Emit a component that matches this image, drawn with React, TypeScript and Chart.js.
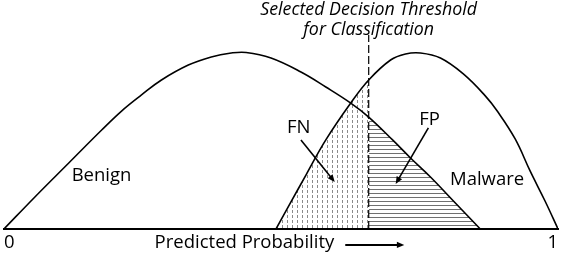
import { useEffect, useRef } from "react";
import { Chart, registerables } from "chart.js";

Chart.register(...registerables);

// ---- data ----
const xTickValues = [0, 1];
const threshold = 0.6583;

const benignX = [0, 0.0558, 0.1169, 0.1763, 0.2122, 0.2482, 0.2842, 0.3327, 0.3741, 0.4101, 0.4371, 0.482, 0.536, 0.5809, 0.6259, 0.6583, 0.7014, 0.7338, 0.7698, 0.8147, 0.8597];
const benignY = [0, 0.165, 0.34, 0.51, 0.608, 0.691, 0.768, 0.845, 0.887, 0.907, 0.91, 0.881, 0.809, 0.732, 0.649, 0.577, 0.459, 0.366, 0.268, 0.134, 0];

const malwareX = [0.491, 0.518, 0.545, 0.5809, 0.6259, 0.6583, 0.6978, 0.7248, 0.7518, 0.7878, 0.8291, 0.8687, 0.8903, 0.9227, 0.9496, 0.9766, 1];
const malwareY = [0, 0.139, 0.278, 0.459, 0.649, 0.768, 0.871, 0.902, 0.907, 0.881, 0.799, 0.686, 0.608, 0.464, 0.299, 0.144, 0];

const classLabels = ["Benign", "Malware"];
const regionLabels = ["FN", "FP"];
const titleLines = ["Selected Decision Threshold", "for Classification"];
const axisTitle = "Predicted Probability";

// label anchor positions in data units
const classLabelX = [0.176, 0.872];
const classLabelY = [0.273, 0.253];
const regionLabelX = [0.532, 0.768];
const regionLabelY = [0.521, 0.562];
// arrows: from (x0,y0) to (x1,y1)
const arrowFromX = [0.536, 0.766];
const arrowFromY = [0.459, 0.521];
const arrowToX = [0.597, 0.707];
const arrowToY = [0.242, 0.232];

const toPts = (xs: number[], ys: number[]) => xs.map((x, i) => ({ x, y: ys[i] }));
const benignPts = toPts(benignX, benignY);
const malwarePts = toPts(malwareX, malwareY);
const fnPts = malwarePts.filter((p) => p.x <= threshold);
const fpPts = benignPts.filter((p) => p.x >= threshold);

const FONT = '"Open Sans", sans-serif';
const TENSION = 0.4;

function makeVerticalHatch() {
  const c = document.createElement("canvas");
  c.width = 5;
  c.height = 5;
  const g = c.getContext("2d")!;
  g.fillStyle = "#8a8a8a";
  g.fillRect(2, 0, 1, 3);
  return g.createPattern(c, "repeat")!;
}

function makeHorizontalHatch() {
  const c = document.createElement("canvas");
  c.width = 4;
  c.height = 4;
  const g = c.getContext("2d")!;
  g.fillStyle = "#707070";
  g.fillRect(0, 1, 4, 1);
  return g.createPattern(c, "repeat")!;
}

function drawArrow(ctx: CanvasRenderingContext2D, x0: number, y0: number, x1: number, y1: number, lw: number, head: number) {
  const ang = Math.atan2(y1 - y0, x1 - x0);
  ctx.beginPath();
  ctx.lineWidth = lw;
  ctx.moveTo(x0, y0);
  ctx.lineTo(x1 - Math.cos(ang) * head * 0.8, y1 - Math.sin(ang) * head * 0.8);
  ctx.stroke();
  ctx.beginPath();
  ctx.moveTo(x1, y1);
  ctx.lineTo(x1 - head * Math.cos(ang - 0.4), y1 - head * Math.sin(ang - 0.4));
  ctx.lineTo(x1 - head * Math.cos(ang + 0.4), y1 - head * Math.sin(ang + 0.4));
  ctx.closePath();
  ctx.fill();
}

const annotationPlugin = {
  id: "annotations",
  afterDraw(chart: any) {
    const { ctx, chartArea } = chart;
    const xs = chart.scales.x;
    const ys = chart.scales.y;
    ctx.save();
    ctx.fillStyle = "#000";
    ctx.strokeStyle = "#000";
    ctx.textAlign = "center";
    ctx.textBaseline = "middle";
    ctx.font = `18.5px ${FONT}`;
    classLabels.forEach((t, i) => {
      ctx.fillText(t, xs.getPixelForValue(classLabelX[i]), ys.getPixelForValue(classLabelY[i]));
    });
    regionLabels.forEach((t, i) => {
      ctx.fillText(t, xs.getPixelForValue(regionLabelX[i]), ys.getPixelForValue(regionLabelY[i]));
    });
    arrowFromX.forEach((_, i) => {
      drawArrow(
        ctx,
        xs.getPixelForValue(arrowFromX[i]),
        ys.getPixelForValue(arrowFromY[i]),
        xs.getPixelForValue(arrowToX[i]),
        ys.getPixelForValue(arrowToY[i]),
        1.6,
        8
      );
    });
    // threshold title
    const tx = xs.getPixelForValue(threshold);
    ctx.font = `italic 17.8px ${FONT}`;
    ctx.fillText(titleLines[0], tx, chartArea.top - 25);
    ctx.fillText(titleLines[1], tx, chartArea.top - 5);
    // axis title with arrow
    ctx.font = `18.5px ${FONT}`;
    const ay = chartArea.bottom + 14;
    const ax = xs.getPixelForValue(0.434);
    ctx.fillText(axisTitle, ax, ay);
    const w = ctx.measureText(axisTitle).width;
    const arrowStart = ax + w / 2 + 11;
    drawArrow(ctx, arrowStart, ay + 2, arrowStart + 59, ay + 2, 2, 8);
    ctx.restore();
  },
};

export default function App() {
  const ref = useRef<HTMLCanvasElement | null>(null);
  useEffect(() => {
    document.body.style.margin = "0";
    const canvas = ref.current!;
    const chart = new Chart(canvas, {
      type: "line",
      data: {
        datasets: [
          {
            label: "Threshold",
            data: [
              { x: threshold, y: 0 },
              { x: threshold, y: 1 },
            ],
            borderColor: "#000",
            borderWidth: 1.2,
            borderDash: [8, 3],
            pointRadius: 0,
            fill: false,
            order: 0,
          },
          {
            label: "Benign",
            data: benignPts,
            borderColor: "#000",
            borderWidth: 1.6,
            pointRadius: 0,
            tension: TENSION,
            fill: false,
            order: 1,
          },
          {
            label: "Malware",
            data: malwarePts,
            borderColor: "#000",
            borderWidth: 1.6,
            pointRadius: 0,
            tension: TENSION,
            fill: false,
            order: 1,
          },
          {
            label: "FN",
            data: fnPts,
            borderWidth: 0,
            borderColor: "rgba(0,0,0,0)",
            backgroundColor: makeVerticalHatch(),
            pointRadius: 0,
            tension: TENSION,
            fill: "origin",
            order: 2,
          },
          {
            label: "FP",
            data: fpPts,
            borderWidth: 0,
            borderColor: "rgba(0,0,0,0)",
            backgroundColor: makeHorizontalHatch(),
            pointRadius: 0,
            tension: TENSION,
            fill: "origin",
            order: 2,
          },
        ],
      },
      options: {
        animation: false,
        responsive: false,
        maintainAspectRatio: false,
        events: [],
        layout: { padding: { top: 35, left: 2, right: 4, bottom: 0 } },
        plugins: { legend: { display: false }, tooltip: { enabled: false } },
        scales: {
          x: {
            type: "linear",
            min: 0,
            max: 1,
            afterBuildTicks: (axis: any) => {
              axis.ticks = xTickValues.map((v) => ({ value: v }));
            },
            grid: { display: false, drawTicks: false },
            border: { display: true, color: "#000", width: 2 },
            ticks: {
              align: "inner",
              color: "#000",
              padding: 4,
              font: { family: FONT, size: 18.5, lineHeight: 1.03 },
              callback: (v: any) => String(v),
            },
          },
          y: {
            display: false,
            min: 0,
            max: 1,
          },
        },
      },
      plugins: [annotationPlugin],
    });
    return () => chart.destroy();
  }, []);
  return (
    <div style={{ width: 562, height: 256 }}>
      <canvas ref={ref} width={562} height={256} style={{ display: "block" }} />
    </div>
  );
}
